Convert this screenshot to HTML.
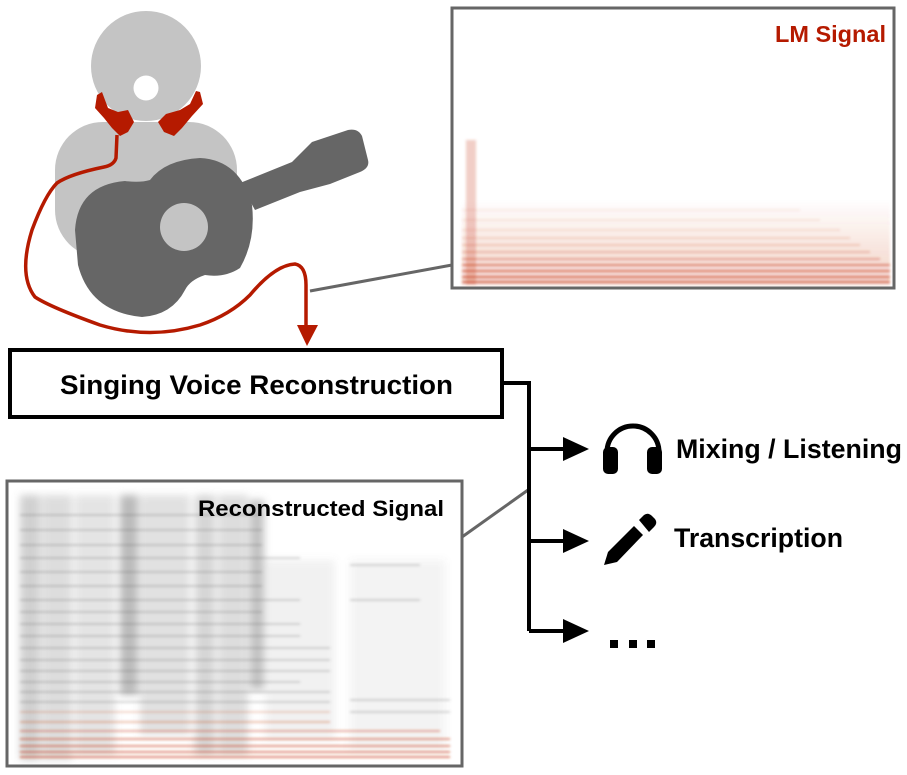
<!DOCTYPE html>
<html><head><meta charset="utf-8"><style>html,body{margin:0;padding:0;background:#fff}svg{display:block}text{font-family:"Liberation Sans",Arial,sans-serif;font-weight:bold}</style></head>
<body>
<svg width="907" height="775" viewBox="0 0 907 775" xmlns="http://www.w3.org/2000/svg">
<defs>
<filter id="b1"><feGaussianBlur stdDeviation="1.2"/></filter>
<filter id="b4"><feGaussianBlur stdDeviation="4"/></filter>
<linearGradient id="rg" x1="0" y1="1" x2="0" y2="0"><stop offset="0" stop-color="#c83a1a" stop-opacity="0.9"/><stop offset="1" stop-color="#c83a1a" stop-opacity="0"/></linearGradient>
</defs>
<!-- figure -->
<circle cx="146" cy="66" r="55" fill="#c4c4c4"/>
<circle cx="146" cy="88" r="12.5" fill="#fff"/>
<rect x="55" y="122" width="182" height="136" rx="48" fill="#c4c4c4"/>
<path d="M240 183 L292 162 L312 142 L348 130 Q358 128 362 136 L368 160 Q370 168 360 172 L330 184 L300 192 L255 210 Z" fill="#666"/>
<path d="M75 230 Q78 185 125 181 Q140 183 150 180 Q165 160 200 158 Q240 160 252 205 Q256 240 240 268 Q225 278 205 275 Q190 280 185 290 Q172 315 142 317 Q90 312 78 265 Z" fill="#666"/>
<circle cx="184" cy="227" r="24" fill="#c4c4c4"/>
<path d="M97 95 L102 92 L108 108 L118 112 L128 110 L134 122 L128 132 L120 136 L112 128 L104 118 L95 108 Z" fill="#b51a00"/>
<path d="M200 92 L196 91 L190 104 L180 110 L166 114 L158 122 L164 132 L174 136 L182 128 L192 116 L203 104 Z" fill="#b51a00"/>
<path d="M117 135 L116 158 Q114 165 104 167 Q70 174 57 183 Q45 195 32 230 Q18 275 35 297 Q50 307 100 325 Q150 340 200 325 Q230 315 250 295 Q275 265 295 264 Q306 266 306 285 L306 326" fill="none" stroke="#b51a00" stroke-width="3.5"/>
<polygon points="297,325 318,325 307,346" fill="#b51a00"/>
<!-- connectors -->
<line x1="310" y1="291" x2="452" y2="265" stroke="#666" stroke-width="3"/>
<line x1="462" y1="537" x2="528" y2="490" stroke="#666" stroke-width="3"/>
<!-- top spectrogram -->
<rect x="452" y="8" width="442" height="280" fill="#fff" stroke="#666" stroke-width="3"/>
<g filter="url(#b1)" stroke-width="1.5">
<rect x="462" y="200" width="428" height="85" fill="url(#rg)" opacity="0.25" stroke="none"/>
<g stroke="#c83a1a">
<line x1="462" y1="282" x2="890" y2="282" opacity=".8"/>
<line x1="462" y1="277" x2="890" y2="277" opacity=".8"/>
<line x1="462" y1="271" x2="890" y2="271" opacity=".75"/>
<line x1="462" y1="265" x2="890" y2="265" opacity=".7"/>
<line x1="462" y1="259" x2="880" y2="259" opacity=".5"/>
<line x1="462" y1="252" x2="870" y2="252" opacity=".35"/>
<line x1="462" y1="245" x2="860" y2="245" opacity=".25"/>
<line x1="462" y1="238" x2="850" y2="238" opacity=".2"/>
<line x1="462" y1="230" x2="840" y2="230" opacity=".15"/>
<line x1="462" y1="220" x2="820" y2="220" opacity=".12"/>
<line x1="462" y1="210" x2="800" y2="210" opacity=".1"/>
</g>
<rect x="466" y="140" width="10" height="145" fill="#c83a1a" opacity=".25" stroke="none"/>
</g>
<text x="886" y="42" font-size="23" fill="#b51a00" text-anchor="end" textLength="111" lengthAdjust="spacingAndGlyphs">LM Signal</text>
<!-- bottom spectrogram -->
<rect x="7" y="481" width="455" height="285" fill="#fff" stroke="#666" stroke-width="3"/>
<g filter="url(#b4)" fill="#777">
<rect x="20" y="495" width="20" height="265" opacity=".35"/>
<rect x="42" y="495" width="30" height="265" opacity=".25"/>
<rect x="75" y="495" width="40" height="260" opacity=".2"/>
<rect x="120" y="495" width="18" height="200" opacity=".5"/>
<rect x="140" y="495" width="50" height="240" opacity=".22"/>
<rect x="195" y="495" width="20" height="260" opacity=".3"/>
<rect x="218" y="495" width="30" height="260" opacity=".25"/>
<rect x="250" y="500" width="14" height="190" opacity=".45"/>
<rect x="265" y="560" width="70" height="180" opacity=".1"/>
<rect x="350" y="560" width="95" height="190" opacity=".08"/>
</g>
<g filter="url(#b1)" stroke-width="1.3" fill="none">
<g stroke="#555" opacity=".35">
<path d="M20 515 H262"/><path d="M20 530 H262"/><path d="M20 545 H262"/><path d="M20 558 H300"/><path d="M20 572 H262"/>
<path d="M20 586 H262"/><path d="M20 600 H300"/><path d="M20 612 H262"/><path d="M20 624 H300"/><path d="M20 636 H300"/>
<path d="M20 648 H330"/><path d="M20 660 H330"/><path d="M20 671 H330"/><path d="M20 682 H300"/><path d="M20 692 H330"/>
<path d="M20 702 H330"/><path d="M350 700 H450"/><path d="M350 712 H450"/><path d="M350 565 H420"/><path d="M350 600 H420"/>
</g>
<g stroke="#c83a1a">
<path d="M20 712 H330" opacity=".3"/><path d="M20 722 H330" opacity=".45"/><path d="M20 731 H440" opacity=".6"/>
<path d="M20 739 H450" opacity=".75"/><path d="M20 746 H450" opacity=".8"/><path d="M20 752 H450" opacity=".85"/><path d="M20 757 H450" opacity=".9"/>
</g>
</g>
<text x="198" y="516" font-size="22" fill="#000" textLength="246" lengthAdjust="spacingAndGlyphs">Reconstructed Signal</text>
<!-- main box -->
<rect x="10" y="350" width="492" height="67" fill="#fff" stroke="#000" stroke-width="4"/>
<text x="60" y="394" font-size="27" textLength="393" lengthAdjust="spacingAndGlyphs">Singing Voice Reconstruction</text>
<!-- branches -->
<path d="M502 383 H529 V631" fill="none" stroke="#000" stroke-width="4"/>
<g stroke="#000" stroke-width="4"><line x1="529" y1="449" x2="566" y2="449"/><line x1="529" y1="541" x2="566" y2="541"/><line x1="529" y1="631" x2="566" y2="631"/></g>
<g fill="#000"><polygon points="563,437 589,449 563,461"/><polygon points="563,529 589,541 563,553"/><polygon points="563,619 589,631 563,643"/></g>
<!-- headphones -->
<path d="M607 465 V452 A26 26 0 0 1 659 452 V465" fill="none" stroke="#000" stroke-width="5"/>
<rect x="603" y="447" width="15" height="27" rx="5" fill="#000"/>
<rect x="647" y="447" width="15" height="27" rx="5" fill="#000"/>
<text x="676" y="458" font-size="26.5" textLength="226" lengthAdjust="spacingAndGlyphs">Mixing / Listening</text>
<!-- pencil -->
<path d="M634 526 L608 552 L604 565 L617 562 L643 535 Z" fill="#000"/>
<path d="M639 520 L644 515 Q648 512 652 516 L655 519 Q658 523 654 527 L649 532 Z" fill="#000"/>
<text x="674" y="547" font-size="26.5" textLength="169" lengthAdjust="spacingAndGlyphs">Transcription</text>
<g fill="#000"><rect x="610" y="640" width="8" height="8"/><rect x="629" y="640" width="8" height="8"/><rect x="647" y="640" width="8" height="8"/></g>
</svg>
</body></html>
